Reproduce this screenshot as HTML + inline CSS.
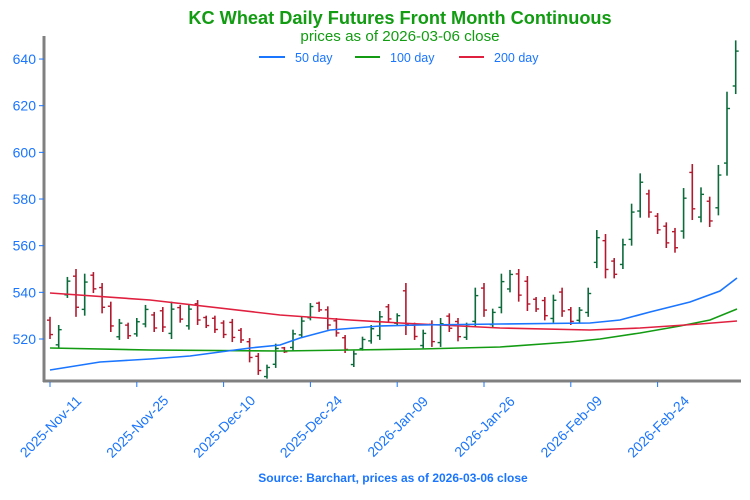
<!DOCTYPE html>
<html><head><meta charset="utf-8"><style>
body{margin:0;background:#fff;}
svg text{font-family:"Liberation Sans",sans-serif;}
</style></head><body>
<svg id="c" width="750" height="495" viewBox="0 0 750 495" xmlns="http://www.w3.org/2000/svg">
<text x="400" y="24" text-anchor="middle" font-size="18.2" font-weight="bold" fill="#129c12">KC Wheat Daily Futures Front Month Continuous</text>
<text x="400" y="41" text-anchor="middle" font-size="15.2" fill="#129c12">prices as of 2026-03-06 close</text>
<line x1="259" y1="57" x2="285" y2="57" stroke="#1a75ff" stroke-width="2"/>
<text x="295" y="62" font-size="12.5" fill="#1a75ff">50 day</text>
<line x1="355" y1="57" x2="380" y2="57" stroke="#139c13" stroke-width="2"/>
<text x="390" y="62" font-size="12.5" fill="#1a75ff">100 day</text>
<line x1="459" y1="57" x2="484" y2="57" stroke="#e0203f" stroke-width="2"/>
<text x="494" y="62" font-size="12.5" fill="#1a75ff">200 day</text>
<g id="bars"></g>
<polyline fill="none" stroke="#139c13" stroke-width="1.6" points="50,348 150,350 280,351 350,350 420,349 500,347 570,342 600,339 640,333 680,326 710,320 737,309"/>
<polyline fill="none" stroke="#e0203f" stroke-width="1.6" points="50,293 150,300 280,315 350,320 400,323 500,328 590,330 640,328 700,324 737,321"/>
<polyline fill="none" stroke="#1a75ff" stroke-width="1.6" points="50,370 100,362 150,359 190,356 250,348 280,345 300,338 330,330 380,326 420,325 500,324 590,323 620,320 650,312 690,302 720,291 737,278"/>
<line x1="44" y1="36" x2="44" y2="382" stroke="#808080" stroke-width="3"/>
<line x1="43" y1="381" x2="741" y2="381" stroke="#808080" stroke-width="3"/>
<g id="ax" font-size="14" fill="#1a75ff"></g>
<text x="393" y="482" text-anchor="middle" font-size="12" font-weight="bold" fill="#1a75ff">Source: Barchart, prices as of 2026-03-06 close</text>
</svg>
<script>
var NS="http://www.w3.org/2000/svg";
function Y(v){return 339-(v-520)*2.333;}
var d=[[529.5,520,0],[526,516,1],[546.6,537.6,1],[550,529.5,0],[548,530,1],[548.7,539.7,0],[544,531,0],[536,523,0],[528.6,519.6,1],[527,520,0],[529,521,1],[534.6,525,1],[531.6,523,0],[533.7,523,0],[536,520,1],[534.6,527,0],[535,524,1],[536.7,526,0],[530,524.7,0],[530,522.6,0],[528,520.4,0],[528.6,518.7,0],[524.7,518.3,0],[520.4,510,0],[514,504.6,0],[509,503,1],[518,507.6,1],[516.6,514,0],[524,515,1],[529.5,520.4,1],[535.4,528,1],[536,531.6,0],[534,524,0],[529,521,0],[521.7,514,0],[515,508,1],[521,515,1],[526,518,1],[532,519.6,1],[535,527,0],[531,526,1],[544,521.7,0],[527,519.6,0],[524,516,1],[528,516.6,0],[529,516.6,1],[531,523,0],[529,519,0],[527,519.6,1],[542,525,1],[544,529.5,0],[533,525,1],[548,531,1],[549.6,540,1],[550,536,0],[547,532,0],[538,531.6,0],[538,528,0],[539,527,1],[542,529.5,0],[533.7,526,0],[533.7,527,1],[542,529.5,1],[566.7,550.4,1],[565,546,0],[554.7,546,0],[563,550,1],[578,560,1],[591,572,1],[584,572,0],[574,565,0],[570,559,0],[567.6,557,0],[584.7,563,1],[595,571,0],[585,570,1],[581,568,0],[594.6,573,1],[626,590,1],[648,625,1]];
var g=document.getElementById("bars"),s="";
d.forEach(function(b,i){
 var x=(50+i*8.68).toFixed(1),h=b[0],l=b[1],up=b[2],r=h-l;
 var o=up?l+r*0.15:h-r*0.15,c=up?h-r*0.2:l+r*0.2;
 var col=up?"#0b6b3a":"#b3192e";
 s+='<line x1="'+x+'" y1="'+Y(h)+'" x2="'+x+'" y2="'+Y(l)+'" stroke="'+col+'" stroke-width="1.6"/>';
 s+='<line x1="'+(x-3)+'" y1="'+Y(o)+'" x2="'+x+'" y2="'+Y(o)+'" stroke="'+col+'" stroke-width="1.4"/>';
 s+='<line x1="'+x+'" y1="'+Y(c)+'" x2="'+(+x+3)+'" y2="'+Y(c)+'" stroke="'+col+'" stroke-width="1.4"/>';
});
g.innerHTML=s;
var a="";
[520,540,560,580,600,620,640].forEach(function(v){var y=Y(v);
 a+='<line x1="39" y1="'+y+'" x2="44" y2="'+y+'" stroke="#1a75ff"/><text x="36" y="'+(y+5)+'" text-anchor="end">'+v+'</text>';});
["2025-Nov-11","2025-Nov-25","2025-Dec-10","2025-Dec-24","2026-Jan-09","2026-Jan-26","2026-Feb-09","2026-Feb-24"].forEach(function(t,i){
 var x=50+i*86.8;
 a+='<line x1="'+x+'" y1="382" x2="'+x+'" y2="387" stroke="#1a75ff"/><text transform="translate('+(x+4)+',430) rotate(-45)" text-anchor="middle">'+t+'</text>';});
document.getElementById("ax").innerHTML=a;
</script>
</body></html>
